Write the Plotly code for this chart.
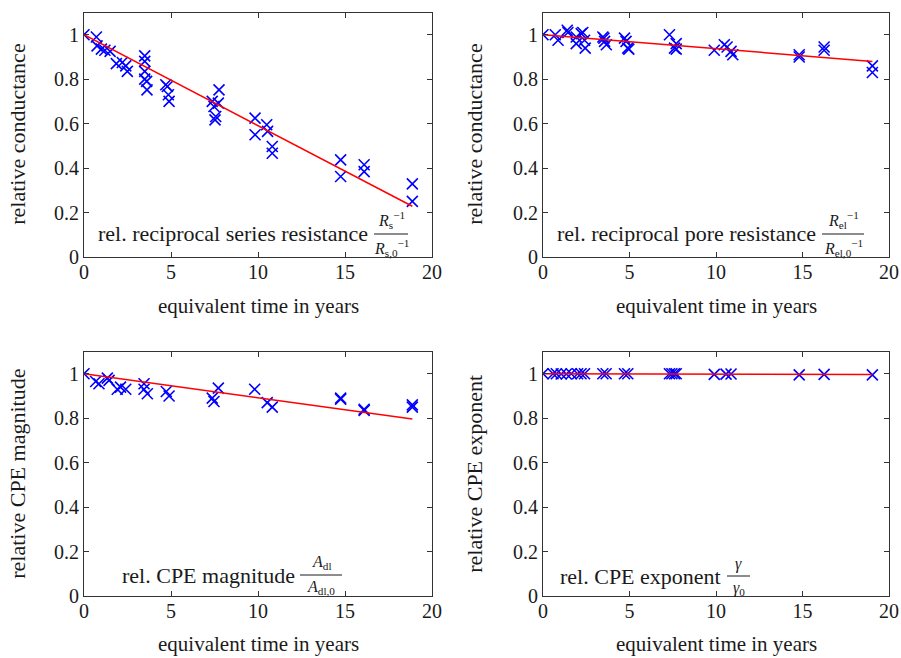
import plotly.graph_objects as go

# ---------------- data ----------------
# panel 1: rel. reciprocal series resistance
t_series = [0, 0.71, 0.75, 1.0, 1.2, 1.5, 1.86, 2.2, 2.4, 2.49, 3.49, 3.49, 3.49, 3.49, 3.6, 3.62,
            4.7, 4.79, 4.85, 4.89, 7.37, 7.47, 7.57, 7.53, 7.76, 7.72, 9.83, 9.83, 10.5, 10.55,
            10.82, 10.82, 14.75, 14.75, 16.1, 16.1, 18.87, 18.87]
v_series = [1.0, 0.99, 0.95, 0.935, 0.93, 0.925, 0.87, 0.875, 0.86, 0.835, 0.905, 0.88, 0.835, 0.80,
            0.79, 0.752, 0.775, 0.767, 0.73, 0.70, 0.70, 0.677, 0.632, 0.617, 0.752, 0.692, 0.625,
            0.55, 0.595, 0.565, 0.497, 0.467, 0.437, 0.362, 0.415, 0.384, 0.329, 0.25]
fit_series = (1.0, -0.0409)   # intercept, slope

# panel 2: rel. reciprocal pore resistance
t_pore = [0, 0.71, 0.87, 1.4, 1.44, 1.92, 1.92, 2.21, 2.3, 2.4, 2.44, 3.46, 3.52, 3.56, 3.66,
          4.71, 4.8, 4.9, 4.96, 7.31, 7.6, 7.7, 7.7, 9.9, 10.48, 10.64, 10.87, 10.97, 14.81, 14.81,
          16.25, 16.25, 19.04, 19.04]
v_pore = [1.0, 1.0, 0.975, 1.02, 1.01, 0.99, 0.96, 1.005, 1.01, 0.975, 0.94, 0.99, 0.985, 0.97,
          0.955, 0.985, 0.97, 0.94, 0.935, 1.0, 0.94, 0.96, 0.935, 0.93, 0.955, 0.945, 0.925, 0.91,
          0.91, 0.90, 0.945, 0.93, 0.86, 0.83]
fit_pore = (1.0, -0.0063)

# panel 3: rel. CPE magnitude
t_mag = [0, 0.67, 0.86, 1.34, 1.44, 1.91, 2.1, 2.4, 3.45, 3.45, 3.64, 4.73, 4.89, 7.37, 7.47, 7.72,
         9.81, 10.53, 10.82, 14.75, 14.75, 16.1, 16.1, 18.87, 18.87]
v_mag = [1.0, 0.965, 0.955, 0.98, 0.97, 0.93, 0.94, 0.93, 0.955, 0.93, 0.91, 0.92, 0.90, 0.89,
         0.875, 0.935, 0.93, 0.87, 0.85, 0.89, 0.885, 0.84, 0.835, 0.86, 0.85]
fit_mag = (1.0, -0.0108)

# panel 4: rel. CPE exponent
t_exp = [0, 0.58, 0.77, 1.05, 1.35, 1.63, 2.0, 2.2, 2.4, 3.46, 3.65, 4.71, 4.9, 7.31, 7.45, 7.6,
         7.7, 9.9, 10.58, 10.87, 14.81, 16.25, 19.04]
v_exp = [1.0, 1.0, 1.0, 0.999, 0.999, 1.0, 1.0, 1.0, 1.0, 1.0, 1.0, 1.0, 1.0, 1.0, 1.0, 1.0, 1.0,
         0.997, 0.998, 0.999, 0.995, 0.997, 0.995]
fit_exp = (1.0, -0.0002)

x_ticks = [0, 5, 10, 15, 20]
y_ticks = [0, 0.2, 0.4, 0.6, 0.8, 1.0]
y_ticktext = ["0", "0.2", "0.4", "0.6", "0.8", "1"]
x_title = "equivalent time in years"
y_titles = ["relative conductance", "relative conductance", "relative CPE magnitude", "relative CPE exponent"]

# ---------------- figure ----------------
W, H = 901, 658
FONT = "Liberation Serif"
BLUE = "#0000ff"
RED = "#ff0000"
INK = "#1a1a1a"


def px(x):
    return x / W


def py(y):
    return 1 - y / H


panels = [
    (t_series, v_series, fit_series),
    (t_pore, v_pore, fit_pore),
    (t_mag, v_mag, fit_mag),
    (t_exp, v_exp, fit_exp),
]

# pixel boxes of the four axes: (left, right, top, bottom)
boxes = [(84, 432, 12.5, 257), (543, 889, 12.5, 257), (84, 432, 351.5, 596), (543, 889, 351.5, 596)]
ytitle_x = [18, 475, 18, 475]
xtitle_y = [306, 306, 644, 644]

fig = go.Figure()
for i, (t, v, (b0, b1)) in enumerate(panels):
    n = "" if i == 0 else str(i + 1)
    fig.add_trace(go.Scatter(
        x=t, y=v, mode="markers", xaxis="x" + n, yaxis="y" + n,
        marker=dict(symbol="x-thin", size=11, color=BLUE, line=dict(color=BLUE, width=1.6)),
        showlegend=False, hoverinfo="skip"))
    tend = max(t)
    fig.add_trace(go.Scatter(
        x=[0, tend], y=[b0, b0 + b1 * tend], mode="lines", xaxis="x" + n, yaxis="y" + n,
        line=dict(color=RED, width=1.5), showlegend=False, hoverinfo="skip"))

tickfont = dict(family=FONT, size=20, color=INK)
layout = dict(width=W, height=H, margin=dict(l=0, r=0, t=0, b=0, pad=0), autosize=False,
              paper_bgcolor="white", plot_bgcolor="white", font=dict(family=FONT, color=INK))
for i, (l, r, tp, bt) in enumerate(boxes):
    n = "" if i == 0 else str(i + 1)
    layout["xaxis" + n] = dict(
        domain=[px(l), px(r)], anchor="y" + n, range=[0, 20], tickvals=x_ticks,
        ticks="inside", ticklen=5, tickcolor="#333", mirror="ticks", showline=True,
        linecolor="#333", linewidth=1, showgrid=False, zeroline=False, tickfont=tickfont,
        ticklabelstandoff=-3, automargin=False)
    layout["yaxis" + n] = dict(
        domain=[py(bt), py(tp)], anchor="x" + n, range=[0, 1.1], tickvals=y_ticks,
        ticktext=y_ticktext, ticks="inside", ticklen=5, tickcolor="#333", mirror="ticks",
        showline=True, linecolor="#333", linewidth=1, showgrid=False, zeroline=False,
        tickfont=tickfont, automargin=False)
fig.update_layout(**layout)

ann = []
fs = 22
for i, (l, r, tp, bt) in enumerate(boxes):
    ann.append(dict(x=px((l + r) / 2), y=py(xtitle_y[i]), text=x_title, showarrow=False,
                    xanchor="center", yanchor="middle",
                    xref="paper", yref="paper", font=dict(size=21, family=FONT)))
    ann.append(dict(x=px(ytitle_x[i]), y=py((tp + bt) / 2), text=y_titles[i], showarrow=False,
                    xanchor="center", yanchor="middle",
                    textangle=-90, xref="paper", yref="paper", font=dict(size=fs, family=FONT)))

# in-plot labels with stacked fractions
labels = [
    ("rel. reciprocal series resistance", 370, 233,
     "<i>R</i><sub>s</sub><sup>−1</sup>", "<i>R</i><sub>s,0</sub><sup>−1</sup>", 374, 408, 234),
    ("rel. reciprocal pore resistance", 818, 233,
     "<i>R</i><sub>el</sub><sup>−1</sup>", "<i>R</i><sub>el,0</sub><sup>−1</sup>", 822, 864, 234),
    ("rel. CPE magnitude", 297, 575,
     "<i>A</i><sub>dl</sub>", "<i>A</i><sub>dl,0</sub>", 300, 342, 575),
    ("rel. CPE exponent", 723, 576,
     "<i>γ</i>", "<i>γ</i><sub>0</sub>", 727, 750, 576),
]
shapes = []
for txt, xr, yc, num, den, fl, fr, yb in labels:
    ann.append(dict(x=px(xr), y=py(yc), text=txt, showarrow=False, xanchor="right",
                    yanchor="middle", xref="paper", yref="paper", font=dict(size=fs, family=FONT)))
    ann.append(dict(x=px((fl + fr) / 2), y=py(yb - 1), text=num, showarrow=False, xanchor="center",
                    yanchor="bottom", xref="paper", yref="paper", font=dict(size=16, family=FONT)))
    ann.append(dict(x=px((fl + fr) / 2), y=py(yb + 1), text=den, showarrow=False, xanchor="center",
                    yanchor="top", xref="paper", yref="paper", font=dict(size=16, family=FONT)))
    shapes.append(dict(type="line", xref="paper", yref="paper", x0=px(fl), x1=px(fr),
                       y0=py(yb), y1=py(yb), line=dict(color=INK, width=1)))

fig.update_layout(annotations=ann, shapes=shapes)
fig.write_html("out.html", config={"displayModeBar": False},
               post_script="document.body.style.margin='0';document.body.style.overflow='hidden';")
